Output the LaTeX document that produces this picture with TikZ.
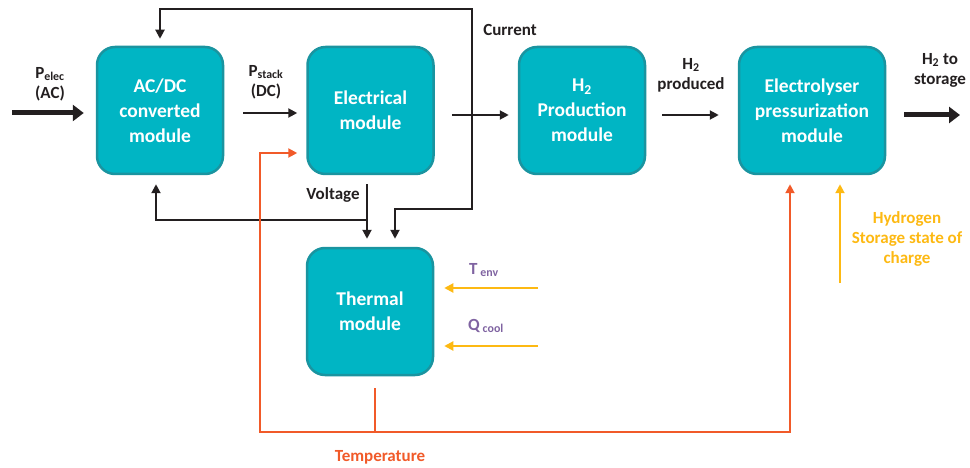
\documentclass[tikz,border=0pt]{standalone}
\usepackage{fontspec}
\setmainfont{Carlito}
\usetikzlibrary{arrows.meta}
\definecolor{tealfill}{HTML}{00B5C4}
\definecolor{tealline}{HTML}{1A94A0}
\definecolor{darkline}{HTML}{231F20}
\definecolor{tempred}{HTML}{F15A29}
\definecolor{hyellow}{HTML}{FDB913}
\definecolor{lblpurple}{HTML}{7F63A1}
\tikzset{
  modbox/.style={rounded corners=18pt, fill=tealfill, draw=tealline, line width=2.5pt,
    minimum width=126pt, minimum height=127pt, text=white, align=center,
    font=\fontsize{19.5}{25}\selectfont\bfseries},
  sig/.style={draw=darkline, line width=2pt, -{Triangle[length=9pt,width=9pt]}},
  bigsig/.style={draw=darkline, line width=5pt, -{Triangle[length=11pt,width=16pt]}},
  tempsig/.style={draw=tempred, line width=2pt},
  ysig/.style={draw=hyellow, line width=2pt, -{Triangle[length=9pt,width=9pt]}},
  lbl/.style={align=center, text=darkline, font=\fontsize{17}{20}\selectfont\bfseries},
}
\begin{document}
\begin{tikzpicture}[x=1pt,y=-1pt]
\useasboundingbox (0,0) rectangle (970,468);

% modules
\node[modbox] (acdc) at (160,110.5) {AC/DC\\converted\\module};
\node[modbox] (elec) at (370.5,110.5) {Electrical\\module};
\node[modbox] (h2p) at (582,110.5) {H\textsubscript{2}\\Production\\module};
\node[modbox, minimum width=146pt] (press) at (812,110.5) {Electrolyser\\pressurization\\module};
\node[modbox] (therm) at (370,311.5) {Thermal\\module};

% coordinates
\coordinate (pin) at (12,113);
\coordinate (pout) at (960,115);
\coordinate (tenv) at (538,288);
\coordinate (qcool) at (538,346);
\coordinate (hsoc) at (840,283);
\coordinate (vsplit) at (367,220);

% main chain
\draw[bigsig] (pin) -- (pin -| acdc.west) [shorten >=12pt];
\draw[sig, shorten <=19pt, shorten >=9pt] (acdc.east |- 0,113) -- (elec.west |- 0,113);
\draw[sig, shorten <=17pt, shorten >=9pt] (elec.east |- 0,115) -- (h2p.west |- 0,115);
\draw[sig, shorten <=16pt, shorten >=19pt] (h2p.east |- 0,115) -- (press.west |- 0,115);
\draw[bigsig, shorten <=18pt] (press.east |- 0,115) -- (pout);

% current feedback
\draw[draw=darkline, line width=2pt, {Triangle[length=9pt,width=9pt]}-{Triangle[length=9pt,width=9pt]}, shorten <=7pt, shorten >=8pt]
  (acdc.north -| 160,0) |- (472,9) |- (395,209) -- (therm.north -| 395,0);

% voltage
\draw[sig, shorten <=9pt, shorten >=8pt] (elec.south -| vsplit) -- (therm.north -| vsplit);
\draw[sig, shorten >=9pt] (vsplit) -| (acdc.south -| 156,0);

% temperature
\draw[tempsig, {Triangle[length=9pt,width=9pt]}-{Triangle[length=9pt,width=9pt]}, shorten <=9pt, shorten >=9pt]
  (elec.west |- 0,153) -| (260,432) -- (790,432) -- (press.south -| 790,0);
\draw[tempsig, shorten <=12pt] (therm.south -| 375,0) -- (375,432);

% yellow inputs
\draw[ysig, shorten >=9pt] (hsoc) -- (press.south -| hsoc);
\draw[ysig, shorten >=10pt] (tenv) -- (therm.east |- tenv);
\draw[ysig, shorten >=10pt] (qcool) -- (therm.east |- qcool);

% labels
\node[lbl] (lpelec) at (50,84) {P\textsubscript{elec}\\(AC)};
\node[lbl] (lpstack) at (266,82) {P\textsubscript{stack}\\(DC)};
\node[lbl] (lcur) at (510,30) {Current};
\node[lbl] (lvolt) at (333,195) {Voltage};
\node[lbl] (lh2) at (691,75) {H\textsubscript{2}\\produced};
\node[lbl] (lh2s) at (940,70) {H\textsubscript{2} to\\storage};
\node[lbl, text=tempred] (ltemp) at (380,457) {Temperature};
\node[lbl, text=hyellow] (lsoc) at (907,239) {Hydrogen\\Storage state of\\charge};
\node[lbl, text=lblpurple] (ltenv) at (484,270) {T\,\textsubscript{env}};
\node[lbl, text=lblpurple] (lqcool) at (486,326) {Q\,\textsubscript{cool}};
\end{tikzpicture}
\end{document}
